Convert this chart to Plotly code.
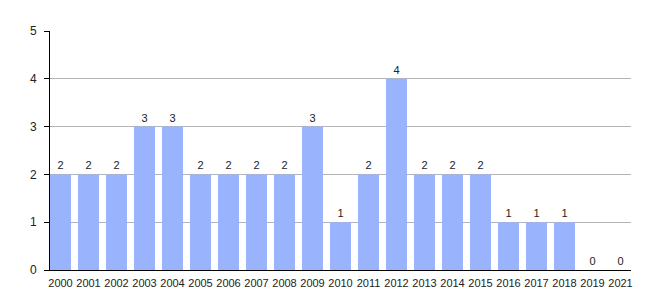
import plotly.graph_objects as go

years = ["2000", "2001", "2002", "2003", "2004", "2005", "2006", "2007", "2008", "2009", "2010",
         "2011", "2012", "2013", "2014", "2015", "2016", "2017", "2018", "2019", "2021"]
counts = [2, 2, 2, 3, 3, 2, 2, 2, 2, 3, 1, 2, 4, 2, 2, 2, 1, 1, 1, 0, 0]
y_ticks = [0, 1, 2, 3, 4, 5]

fig = go.Figure(go.Bar(
    x=years, y=counts,
    marker=dict(color="#9ab3fd", line=dict(width=0)),
    text=[str(c) for c in counts], textposition="outside",
    textfont=dict(size=11, color="#222222"),
    cliponaxis=False,
))

fig.update_layout(
    width=660, height=300,
    margin=dict(l=50, r=29, t=31, b=30),
    paper_bgcolor="white", plot_bgcolor="white",
    font=dict(family="Liberation Sans, Arial, sans-serif", size=11, color="#222222"),
    bargap=0.25,
    showlegend=False,
    xaxis=dict(type="category", range=[-0.375, 20.375], showgrid=False,
               showline=True, linecolor="black", linewidth=1,
               ticks="", tickfont=dict(size=11), ticklabelstandoff=3),
    yaxis=dict(range=[0, 5], tickvals=y_ticks, showgrid=True, gridcolor="#b4b4b4",
               gridwidth=1, showline=True, linecolor="black", linewidth=1,
               ticks="outside", ticklen=5, tickcolor="black", zeroline=False,
               tickfont=dict(size=12), ticklabelstandoff=5),
)

fig.write_html("out.html")
